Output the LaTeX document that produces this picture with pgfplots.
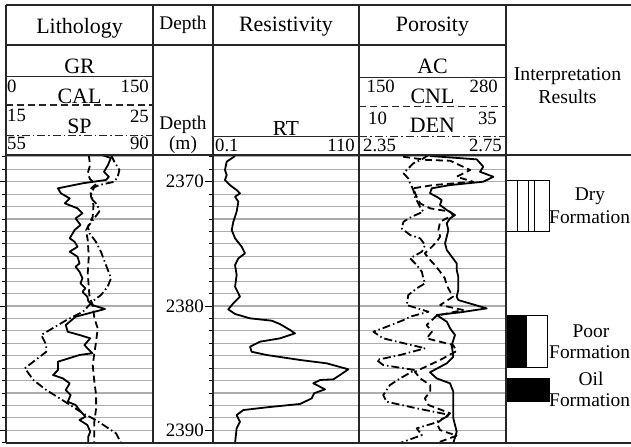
\documentclass[border=0pt]{standalone}
\usepackage{pgfplots}
\pgfplotsset{compat=1.18}
\usepackage{fontspec}
\setmainfont{Liberation Serif}
\newcommand\ft[1]{\fontsize{#1}{#1}\selectfont}
\tikzset{
  dsh/.style={dash pattern=on 7bp off 4bp},
  dsd/.style={dash pattern=on 8bp off 3bp on 1.5bp off 3bp},
  crv/.style={black, line width=1.8bp, line join=round},
}
\pgfplotsset{
  trk/.style={anchor=south west, width=#1, height=288bp, scale only axis,
    ymin=2367.85, ymax=2391.02, y dir=reverse, clip=true},
  gridtrk/.style={xtick=\empty, ytick={2370,2380,2390}, minor ytick={2368,...,2391},
    yticklabels={}, ymajorgrids, yminorgrids,
    major grid style={black!32, line width=1.1bp}, minor grid style={black!32, line width=1.1bp},
    axis line style={draw=none}, major tick length=0pt, minor tick length=0pt},
}
\begin{document}
\begin{tikzpicture}
\useasboundingbox (0bp,0bp) rectangle (631bp,447bp);

% ---------- Lithology track ----------
\begin{axis}[trk=147bp, at={(6bp,4bp)}, xmin=0, xmax=150, gridtrk,
  ytick pos=left, tick align=outside, major tick length=6bp, minor tick length=3.5bp,
  tick style={black, line width=0.8bp}]
\addplot[crv, no markers] table[x=v,y=d] {
d v
2367.85 98
2368.1 107
2368.66 104
2369.2 100
2369.6 105
2369.86 102
2370.13 78
2370.53 53
2370.93 56
2371.34 65
2371.74 60
2372.14 73
2372.54 78
2372.95 71
2373.48 76
2373.89 70
2374.55 65
2374.83 70
2375.23 73
2375.63 65
2376.03 73
2376.57 75
2376.84 71
2377.24 75
2377.77 78
2378.17 76
2378.58 81
2378.85 78
2379.25 83
2379.6 84
2379.92 88
2380.24 101
2380.86 71
2381.53 61
2382.07 63
2382.33 75
2382.6 86
2383.14 80
2383.8 88
2383.94 75
2384.48 53
2385.15 53
2385.55 48
2385.82 58
2386.22 65
2386.76 61
2387.16 66
2387.7 63
2387.96 71
2388.37 75
2388.9 81
2389.17 75
2389.57 83
2390.11 86
2390.5 84
2391.02 84
};
\end{axis}
\begin{axis}[trk=147bp, at={(6bp,4bp)}, xmin=15, xmax=25, hide axis]
\addplot[crv, dsh, no markers] table[x=v,y=d] {
d v
2367.85 20.63
2368.66 20.72
2369.32 20.56
2369.8 20.72
2370.19 21.13
2370.61 20.72
2371.2 20.79
2371.87 20.95
2372.82 20.9
2373.89 20.45
2374.69 20.56
2376.03 20.63
2377.37 20.56
2378.45 20.63
2379.25 20.68
2379.92 20.9
2380.99 21.01
2381.79 21.24
2382.87 21.13
2383.8 21.01
2384.75 20.9
2386.09 21.01
2387.16 21.13
2388.23 21.13
2389.3 21.01
2391.02 21.01
};
\end{axis}
\begin{axis}[trk=147bp, at={(6bp,4bp)}, xmin=55, xmax=90, hide axis]
\addplot[crv, dsd, no markers] table[x=v,y=d] {
d v
2367.85 80.0
2368.39 80.8
2369.06 82.0
2369.6 81.6
2370.0 80.8
2370.27 77.2
2370.45 76.0
2370.93 75.3
2371.47 75.6
2371.87 76.8
2372.41 77.2
2372.95 76.0
2373.62 74.5
2374.15 74.9
2374.83 76.4
2375.63 77.6
2376.7 78.8
2377.77 80.0
2378.45 79.2
2379.12 77.6
2379.52 76.0
2380.46 73.3
2381.13 69.4
2382.33 63.4
2383.14 64.6
2383.68 64.6
2384.48 61.5
2385.01 59.5
2385.95 61.5
2386.76 64.6
2387.43 67.8
2388.1 70.9
2388.63 73.3
2389.17 76.4
2389.71 78.8
2390.24 81.2
2391.02 82.4
};
\end{axis}

% ---------- Depth track ----------
\begin{axis}[trk=60bp, at={(153bp,4bp)}, xmin=0, xmax=60, xtick=\empty,
  ytick={2370,2380,2390}, minor ytick={2368,...,2391}, yticklabels={},
  axis line style={draw=none}, ytick pos=right, tick align=inside,
  major tick length=8bp, minor tick length=4.5bp, tick style={black, line width=0.8bp}]
\node[font=\ft{19}, inner sep=0pt, anchor=east] at (axis cs:51,2370) {2370};
\node[font=\ft{19}, inner sep=0pt, anchor=east] at (axis cs:51,2380) {2380};
\node[font=\ft{19}, inner sep=0pt, anchor=east] at (axis cs:51,2390) {2390};
\end{axis}

% ---------- Resistivity track ----------
\begin{axis}[trk=146bp, at={(213bp,4bp)}, xmin=0.1, xmax=110, gridtrk]
\addplot[crv, no markers] table[x=v,y=d] {
d v
2367.93 16.7
2368.39 10.4
2369.06 9.1
2369.46 10.4
2369.86 9.1
2370.27 12.9
2370.67 17.9
2370.93 20.4
2371.21 16.7
2371.61 19.2
2372.41 17.9
2373.22 15.4
2373.89 14.2
2374.55 16.7
2375.23 21.7
2375.76 24.2
2376.16 19.2
2376.7 16.7
2377.51 17.9
2378.45 16.7
2379.25 20.4
2379.78 15.4
2380.27 11.6
2380.64 16.7
2380.99 28.0
2381.18 44.3
2381.45 50.5
2381.93 58.1
2382.2 61.8
2382.6 50.5
2382.87 35.5
2383.27 28.0
2383.68 29.2
2383.94 40.5
2384.34 65.6
2384.61 85.7
2385.09 102.0
2385.55 95.7
2385.9 90.7
2385.95 80.7
2386.22 75.6
2386.7 84.4
2387.02 76.2
2387.43 74.4
2387.88 65.6
2388.15 40.5
2388.37 22.9
2388.77 17.9
2389.31 20.4
2389.84 17.9
2391.02 16.7
};
\end{axis}

% ---------- Porosity track ----------
\begin{axis}[trk=147bp, at={(359bp,4bp)}, xmin=150, xmax=280, gridtrk]
\addplot[crv, no markers] table[x=v,y=d] {
d v
2367.93 212.8
2368.2 254.1
2368.79 259.9
2369.2 257.0
2369.6 268.8
2370.0 259.9
2370.27 230.5
2370.53 214.3
2370.93 212.8
2371.21 218.7
2371.47 223.1
2371.87 221.6
2372.28 227.6
2372.68 234.9
2372.95 230.5
2373.35 227.6
2373.89 229.0
2374.42 227.6
2374.96 226.1
2375.49 227.6
2376.03 232.0
2376.57 236.4
2377.1 236.4
2377.64 237.8
2378.17 237.8
2378.71 237.8
2379.25 236.4
2379.52 237.8
2380.19 262.9
2380.51 239.3
2380.72 218.7
2381.26 227.6
2381.79 230.5
2382.33 234.9
2383.14 232.0
2384.08 233.4
2384.61 227.6
2385.33 212.8
2385.82 218.7
2386.22 230.5
2386.89 233.4
2387.96 233.4
2389.03 233.4
2390.11 236.4
2391.02 233.4
};
\end{axis}
\begin{axis}[trk=147bp, at={(359bp,4bp)}, xmin=10, xmax=35, hide axis]
\addplot[crv, dsh, no markers] table[x=v,y=d] {
d v
2367.99 17.5
2368.25 21.5
2368.31 25.5
2369.06 28.9
2369.6 26.6
2370.0 29.4
2370.27 22.6
2370.53 19.2
2371.21 19.8
2371.74 20.4
2372.14 22.1
2372.41 25.5
2372.68 26.0
2373.22 23.8
2373.89 23.5
2374.42 23.8
2374.83 23.2
2375.23 22.4
2375.76 21.2
2376.3 22.1
2376.7 22.9
2377.24 23.8
2377.77 24.6
2378.31 24.9
2378.85 25.5
2379.25 26.0
2379.92 23.8
2380.32 27.7
2380.78 23.2
2381.53 21.5
2382.07 22.4
2382.6 21.5
2383.14 26.0
2383.62 26.6
2384.34 23.8
2385.29 19.5
2385.82 20.4
2386.36 22.1
2386.89 22.1
2387.43 21.2
2387.96 21.8
2388.63 25.5
2389.44 23.2
2389.98 23.8
2390.43 26.6
2391.02 23.2
};
\end{axis}
\begin{axis}[trk=147bp, at={(359bp,4bp)}, xmin=2.35, xmax=2.75, hide axis]
\addplot[crv, dsd, no markers] table[x=v,y=d] {
d v
2367.85 2.539
2368.2 2.521
2368.52 2.498
2369.32 2.471
2369.73 2.484
2370.13 2.489
2370.67 2.498
2371.21 2.502
2372.01 2.516
2372.41 2.525
2372.82 2.493
2373.22 2.471
2373.75 2.466
2374.29 2.489
2374.55 2.516
2375.09 2.53
2375.63 2.521
2376.16 2.489
2376.7 2.507
2377.24 2.521
2377.77 2.525
2378.17 2.53
2378.58 2.507
2379.12 2.484
2379.92 2.48
2380.46 2.539
2380.86 2.489
2381.13 2.471
2381.67 2.425
2382.07 2.389
2382.6 2.416
2383.4 2.53
2383.94 2.462
2384.34 2.398
2384.75 2.416
2385.15 2.502
2385.82 2.462
2386.36 2.434
2387.16 2.416
2387.7 2.425
2388.23 2.507
2388.77 2.598
2389.44 2.552
2389.84 2.507
2390.38 2.521
2391.02 2.462
};
\end{axis}

% ---------- Interpretation track ----------
\begin{axis}[trk=125bp, at={(506bp,4bp)}, xmin=0, xmax=125, hide axis, clip=false]
\addplot[draw=black, fill=white, line width=0.9bp] coordinates {(0,2369.86) (43,2369.86) (43,2374.02) (0,2374.02)} -- cycle;
\addplot[black, line width=0.9bp] coordinates {(11.3,2369.86) (11.3,2374.02)};
\addplot[black, line width=0.9bp] coordinates {(22.3,2369.86) (22.3,2374.02)};
\addplot[black, line width=0.9bp] coordinates {(28.3,2369.86) (28.3,2374.02)};
\addplot[draw=black, fill=white, line width=0.9bp] coordinates {(20.7,2380.72) (41.3,2380.72) (41.3,2384.93) (20.7,2384.93)} -- cycle;
\addplot[draw=black, fill=black, line width=0.9bp] coordinates {(0,2380.72) (20.7,2380.72) (20.7,2384.93) (0,2384.93)} -- cycle;
\addplot[draw=black, fill=black, line width=0.9bp] coordinates {(0,2385.82) (43,2385.82) (43,2387.7) (0,2387.7)} -- cycle;
\end{axis}

\begin{scope}[x=1bp,y=1bp]
% ---------- frame ----------
\begin{scope}[black!85, line width=1.3bp]
\draw (6,442) -- (631,442);
\draw (6,402) -- (506,402);
\draw (6,292) -- (631,292);
\draw (6,4) -- (631,4);
\foreach \xx in {6,153,213,359,506} \draw (\xx,4) -- (\xx,442);
\end{scope}
\begin{scope}[black!85, line width=1.1bp]
\draw (6,370.5) -- (153,370.5);
\draw[dsh] (6,342) -- (153,342);
\draw[dsd] (6,311.3) -- (153,311.3);
\draw (213,310.3) -- (359,310.3);
\draw (359,369.7) -- (506,369.7);
\draw[dsh] (359,340.3) -- (506,340.3);
\draw[dsd] (359,310.7) -- (506,310.7);
\end{scope}

% ---------- header text ----------
\begin{scope}[every node/.style={inner sep=0pt}]
\node[font=\ft{22}] at (79.5,419) {Lithology};
\node[font=\ft{22}] at (79.5,380.3) {GR};
\node[font=\ft{18.8}, anchor=west] at (7,361) {0};
\node[font=\ft{18.8}, anchor=east] at (149,360.3) {150};
\node[font=\ft{22}] at (79.5,350.3) {CAL};
\node[font=\ft{18.8}, anchor=west] at (7,332) {15};
\node[font=\ft{18.8}, anchor=east] at (149,330.3) {25};
\node[font=\ft{22}] at (79.5,320.3) {SP};
\node[font=\ft{18.8}, anchor=west] at (7,303.5) {55};
\node[font=\ft{18.8}, anchor=east] at (149,303.5) {90};

\node[font=\ft{19.4}] at (183,422) {Depth};
\node[font=\ft{19.4}] at (183,322) {Depth};
\node[font=\ft{19.4}] at (183,302) {(m)};

\node[font=\ft{22}] at (286,420.3) {Resistivity};
\node[font=\ft{21.5}] at (286,318.7) {RT};
\node[font=\ft{18.8}, anchor=west] at (215,302) {0.1};
\node[font=\ft{18.8}, anchor=east] at (355,302) {110};

\node[font=\ft{22}] at (432.5,420.3) {Porosity};
\node[font=\ft{22}] at (432.5,380.3) {AC};
\node[font=\ft{18.8}, anchor=west] at (366.5,361) {150};
\node[font=\ft{18.8}, anchor=east] at (498,361) {280};
\node[font=\ft{22}] at (432.5,350.3) {CNL};
\node[font=\ft{18.8}, anchor=west] at (368,329) {10};
\node[font=\ft{18.8}, anchor=east] at (497,329) {35};
\node[font=\ft{22}] at (432.5,322) {DEN};
\node[font=\ft{18.8}, anchor=west] at (363,302) {2.35};
\node[font=\ft{18.8}, anchor=east] at (502,302) {2.75};

\node[font=\ft{19.8}] at (567.5,371) {Interpretation};
\node[font=\ft{19.8}] at (567.5,350.3) {Results};

\node[font=\ft{19.5}] at (590,250.3) {Dry};
\node[font=\ft{19.5}, anchor=west] at (549,230.3) {Formation};
\node[font=\ft{19.5}] at (591,115.3) {Poor};
\node[font=\ft{19.5}, anchor=west] at (549,95.3) {Formation};
\node[font=\ft{19.5}] at (591,67.7) {Oil};
\node[font=\ft{19.5}, anchor=west] at (549,47) {Formation};
\end{scope}
\end{scope}
\end{tikzpicture}
\end{document}
